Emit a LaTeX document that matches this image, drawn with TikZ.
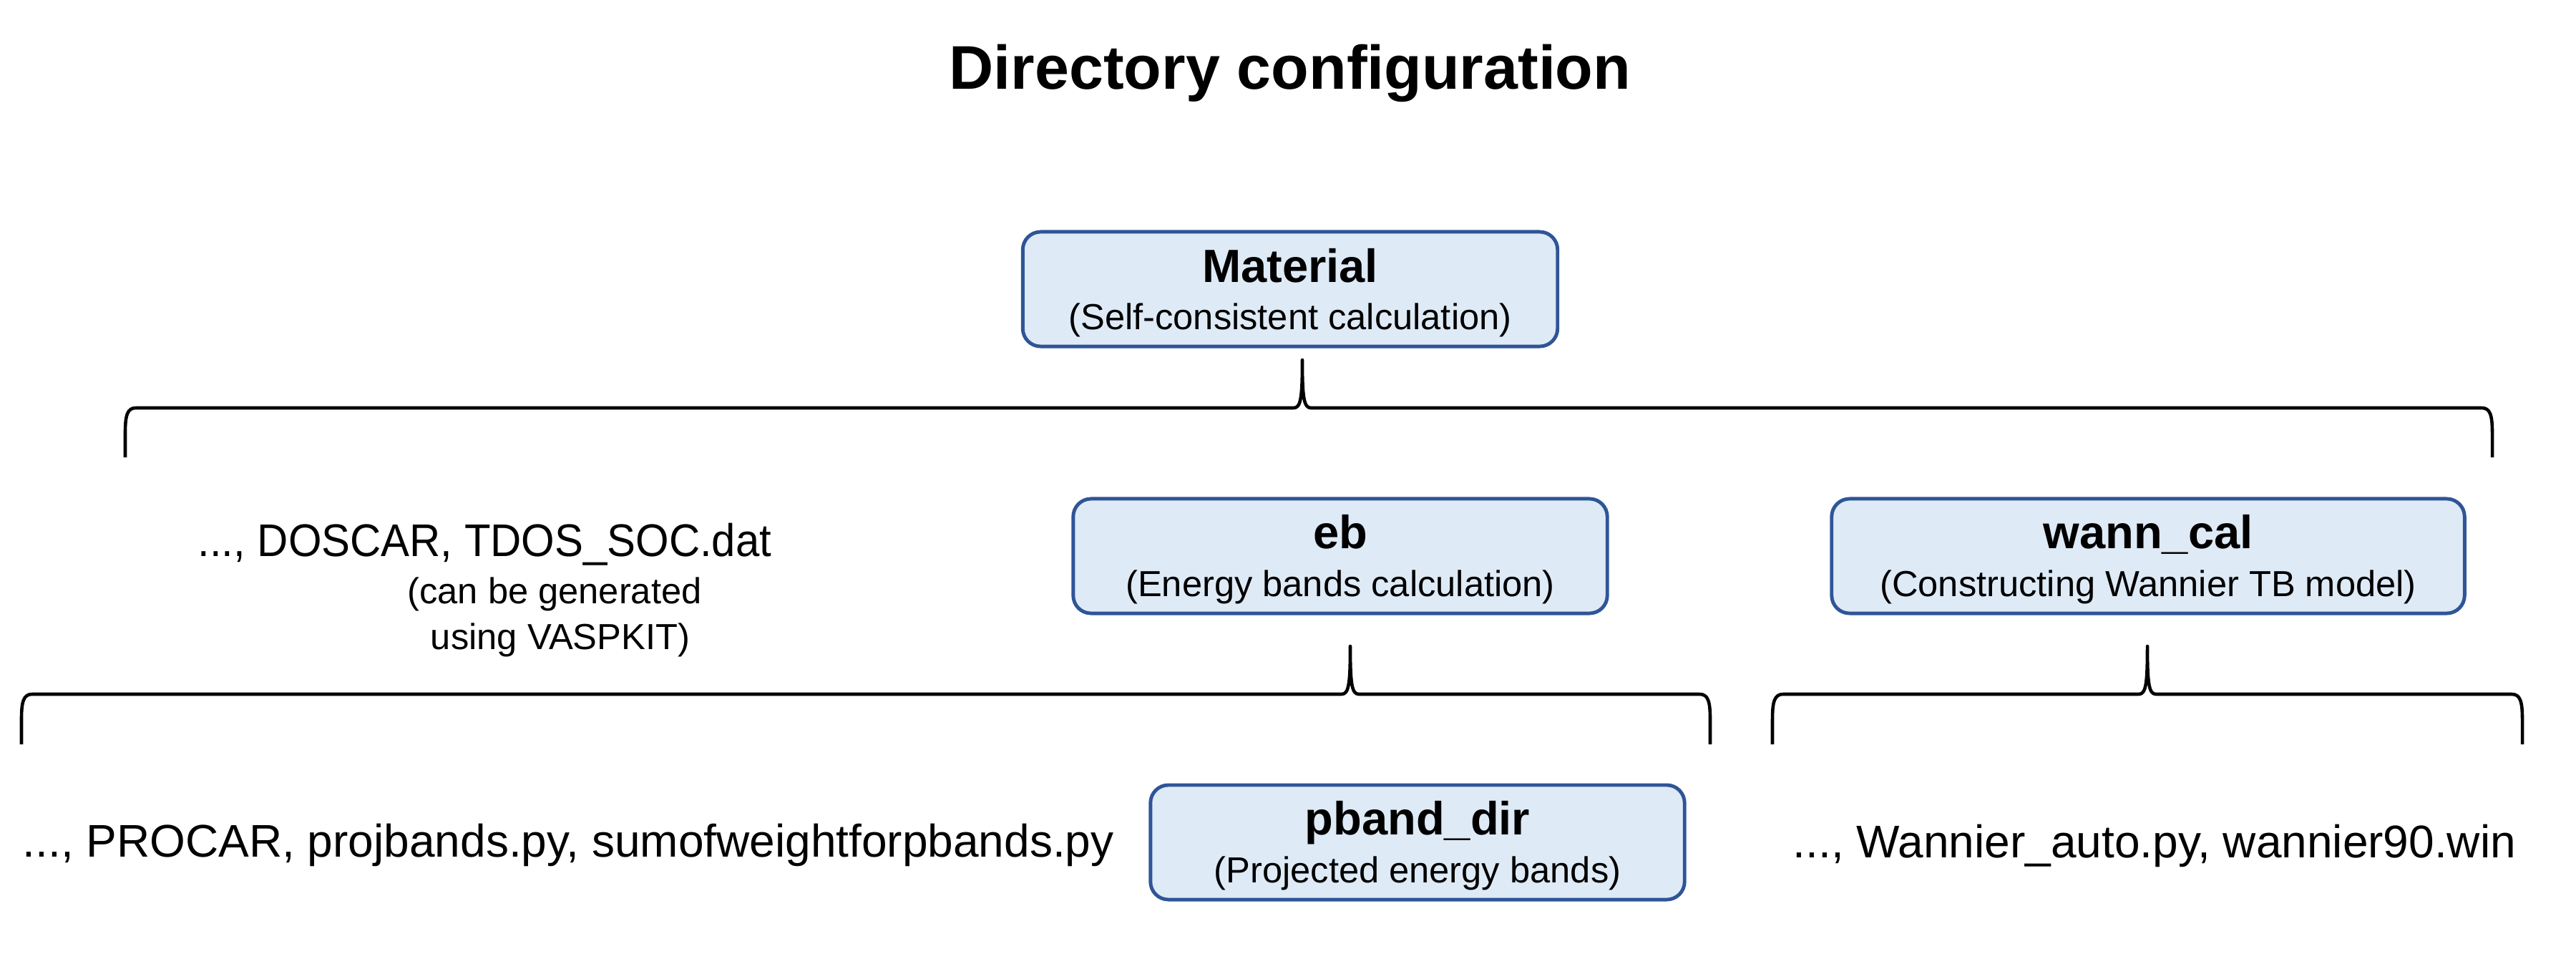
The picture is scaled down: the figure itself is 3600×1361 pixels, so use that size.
\documentclass[tikz,border=0pt]{standalone}
\usepackage{fontspec}
\setmainfont{Liberation Sans}
\definecolor{boxfill}{RGB}{222,234,246}
\definecolor{boxline}{RGB}{47,85,151}
\tikzset{
  dirbox/.style={draw=boxline, fill=boxfill, line width=1.4pt, rounded corners=0.25cm,
    minimum height=1.6cm, inner sep=0pt},
  boxtitle/.style={anchor=base, inner sep=0pt, font=\fontsize{18.5pt}{22pt}\selectfont\bfseries},
  boxsub/.style={anchor=base, inner sep=0pt, font=\fontsize{14.4pt}{18pt}\selectfont},
  filetext/.style={anchor=base west, inner sep=0pt, font=\fontsize{18.2pt}{22pt}\selectfont},
  notetext/.style={anchor=base, inner sep=0pt, font=\fontsize{14.4pt}{18pt}\selectfont},
  headtext/.style={anchor=base, inner sep=0pt, font=\fontsize{24.5pt}{30pt}\selectfont\bfseries},
  bracestyle/.style={draw=black, line width=1.3pt, line join=round}
}
% #1 left x, #2 right x, #3 tip x, #4 line y, #5 tip y, #6 end y
\newcommand\dirbrace[6]{%
  \draw[bracestyle] (#1,#6) -- (#1,{#4+35}) .. controls (#1,{#4+10}) and ({#1+3},#4) .. ({#1+15},#4)
    -- ({#3-12},#4) .. controls ({#3-2},#4) and (#3,{#4-15}) .. (#3,#5)
    .. controls (#3,{#4-15}) and ({#3+2},#4) .. ({#3+12},#4)
    -- ({#2-15},#4) .. controls ({#2-3},#4) and (#2,{#4+10}) .. (#2,{#4+35}) -- (#2,#6);}
\begin{document}
\begin{tikzpicture}[x=0.01cm,y=-0.01cm]
\useasboundingbox (0,0) rectangle (3600,1361);
% title
\node[headtext] (title) at (1803,125) {Directory configuration};
% Material
\node[dirbox, minimum width=7.47cm] (mat) at (1803,404) {};
\node[boxtitle] (matT) at ([yshift=-0.73cm]mat.north) {Material};
\node[boxsub] (matS) at ([yshift=-1.39cm]mat.north) {(Self-consistent calculation)};
% top brace
\dirbrace{175}{3483}{1820}{570}{503}{639}
% DOSCAR text
\node[filetext] (dos) at (276,777) {\scalebox{0.935}[1]{..., DOSCAR, TDOS\_SOC.dat}};
\node[notetext] (note1) at (775,843) {(can be generated};
\node[notetext] (note2) at (783,907) {using VASPKIT)};
% eb
\node[dirbox, minimum width=7.46cm] (eb) at (1873,777) {};
\node[boxtitle] (ebT) at ([yshift=-0.72cm]eb.north) {eb};
\node[boxsub] (ebS) at ([yshift=-1.39cm]eb.north) {(Energy bands calculation)};
% wann_cal
\node[dirbox, minimum width=8.84cm] (wann) at (3002,777) {};
\node[boxtitle] (wannT) at ([yshift=-0.72cm]wann.north) {wann\_cal};
\node[boxsub] (wannS) at ([yshift=-1.39cm]wann.north) {(Constructing Wannier TB model)};
% lower braces
\dirbrace{30}{2390}{1887}{970}{903}{1040}
\dirbrace{2477}{3525}{3001}{970}{903}{1040}
% bottom row
\node[filetext] (proc) at (31,1197) {..., PROCAR, projbands.py, sumofweightforpbands.py};
\node[dirbox, minimum width=7.46cm] (pband) at (1981,1177) {};
\node[boxtitle] (pbandT) at ([yshift=-0.72cm]pband.north) {pband\_dir};
\node[boxsub] (pbandS) at ([yshift=-1.39cm]pband.north) {(Projected energy bands)};
\node[filetext] (wfiles) at (2505,1198) {..., Wannier\_auto.py, wannier90.win};
\end{tikzpicture}
\end{document}
